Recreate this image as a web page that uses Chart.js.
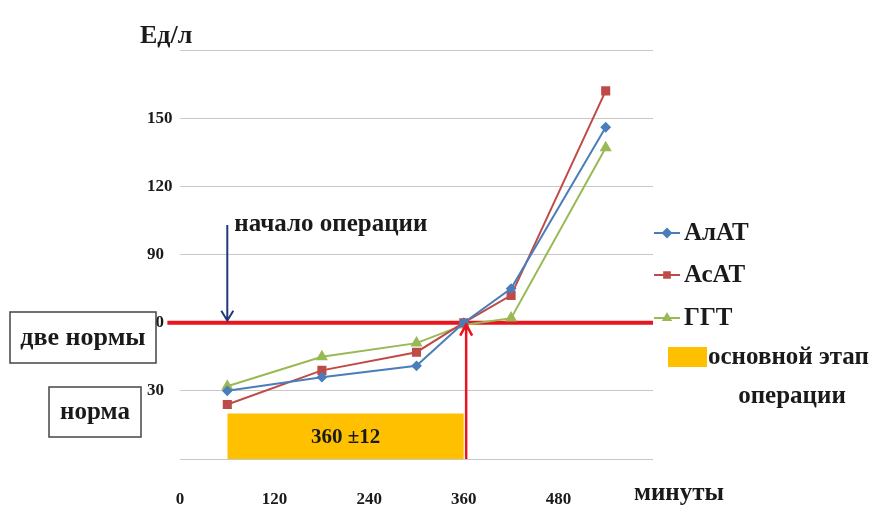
<!DOCTYPE html>
<html>
<head>
<meta charset="utf-8">
<script src="https://cdn.jsdelivr.net/npm/chart.js@4.4.1/dist/chart.umd.min.js"></script>
<style>
  body { margin: 0; background: #fff; }
</style>
</head>
<body>
<canvas id="myChart" width="874" height="523"></canvas>
<script>
// данные графика
var minutes = [60, 180, 300, 360, 420, 540];
var alat = [30, 36, 41, 60, 75, 146];
var asat = [24, 39, 47, 60, 72, 162];
var ggt = [32, 45, 51, 59, 62, 137];
var seriesNames = ['АлАТ', 'АсАТ', 'ГГТ'];
var seriesColors = ['#4a7ebb', '#be4b48', '#98b954'];
var stageMinutes = [60, 360];
var stageLevel = 20;
var twoNorms = 60;
var startMinute = 60;
var xTicks = [0, 120, 240, 360, 480];
var yTicks = [30, 60, 90, 120, 150];

var FONT = '"Liberation Serif", "Times New Roman", serif';

function pts(xs, ys) {
    return xs.map(function (x, i) { return { x: x, y: ys[i] }; });
}

var extras = {
    id: 'extras',
    afterDraw: function (chart) {
        var ctx = chart.ctx;
        var xs = chart.scales.x, ys = chart.scales.y;
        ctx.save();

        // подпись в жёлтом блоке
        ctx.fillStyle = '#1a1a1a';
        ctx.font = 'bold 21px ' + FONT;
        ctx.textAlign = 'center';
        ctx.textBaseline = 'middle';
        var bx = (xs.getPixelForValue(stageMinutes[0]) + xs.getPixelForValue(stageMinutes[1])) / 2;
        ctx.fillText('360 ±12', bx, ys.getPixelForValue(stageLevel / 2) + 1);

        // синяя стрелка "начало операции"
        var ax = xs.getPixelForValue(startMinute);
        var aTop = ys.getPixelForValue(103);
        var aBot = ys.getPixelForValue(twoNorms) - 2;
        ctx.strokeStyle = '#1f3a7a';
        ctx.lineWidth = 2;
        ctx.beginPath();
        ctx.moveTo(ax, aTop); ctx.lineTo(ax, aBot);
        ctx.moveTo(ax - 6, aBot - 10); ctx.lineTo(ax, aBot); ctx.lineTo(ax + 6, aBot - 10);
        ctx.stroke();
        ctx.fillStyle = '#1a1a1a';
        ctx.font = 'bold 25px ' + FONT;
        ctx.textAlign = 'left';
        ctx.fillText('начало операции', ax + 7, aTop);

        // красная стрелка вверх
        var rx = xs.getPixelForValue(363);
        var rTop = ys.getPixelForValue(twoNorms) + 2;
        ctx.strokeStyle = '#e8141e';
        ctx.lineWidth = 2.5;
        ctx.beginPath();
        ctx.moveTo(rx, ys.getPixelForValue(0)); ctx.lineTo(rx, rTop);
        ctx.moveTo(rx - 6, rTop + 11); ctx.lineTo(rx, rTop); ctx.lineTo(rx + 6, rTop + 11);
        ctx.stroke();

        // рамки слева
        function box(x, y, w, h, text, size) {
            ctx.fillStyle = '#fff';
            ctx.fillRect(x, y, w, h);
            ctx.strokeStyle = '#444';
            ctx.lineWidth = 1.5;
            ctx.strokeRect(x, y, w, h);
            ctx.fillStyle = '#1a1a1a';
            ctx.font = 'bold ' + size + 'px ' + FONT;
            ctx.textAlign = 'center';
            ctx.fillText(text, x + w / 2, y + h / 2 + 1);
        }
        box(10, 312, 146, 51, 'две нормы', 26);
        box(49, 387, 92, 50, 'норма', 25);

        // подписи осей
        ctx.fillStyle = '#1a1a1a';
        ctx.font = 'bold 26px ' + FONT;
        ctx.textAlign = 'left';
        ctx.fillText('Ед/л', 140, 36);
        ctx.font = 'bold 25px ' + FONT;
        ctx.textAlign = 'center';
        ctx.fillText('минуты', 679, 494);

        // легенда
        var ly = [233, 275, 318];
        ctx.font = 'bold 25px ' + FONT;
        ctx.textAlign = 'left';
        chart.data.datasets.slice(0, 3).forEach(function (ds, i) {
            ctx.strokeStyle = ds.borderColor;
            ctx.lineWidth = 2;
            ctx.beginPath();
            ctx.moveTo(654, ly[i]); ctx.lineTo(680, ly[i]);
            ctx.stroke();
            Chart.helpers.drawPoint(ctx, { pointStyle: ds.pointStyle, radius: 4, borderWidth: 1 }, 667, ly[i]);
            ctx.fillStyle = ds.borderColor;
            ctx.fill();
            ctx.fillStyle = '#1a1a1a';
            ctx.fillText(seriesNames[i], 684, ly[i] + 1);
        });
        ctx.fillStyle = '#ffc000';
        ctx.fillRect(668, 347, 39, 20);
        ctx.fillStyle = '#1a1a1a';
        ctx.font = 'bold 25px ' + FONT;
        ctx.fillText('основной этап', 708, 358);
        ctx.textAlign = 'center';
        ctx.fillText('операции', 792, 397);

        ctx.restore();
    }
};

var ctx = document.getElementById('myChart').getContext('2d');
var myChart = new Chart(ctx, {
    type: 'line',
    data: {
        datasets: [
            { label: seriesNames[0], data: pts(minutes, alat), borderColor: seriesColors[0], backgroundColor: seriesColors[0],
              pointStyle: 'rectRot', pointRadius: 4, borderWidth: 2, order: 1 },
            { label: seriesNames[1], data: pts(minutes, asat), borderColor: seriesColors[1], backgroundColor: seriesColors[1],
              pointStyle: 'rect', pointRadius: 5, borderWidth: 2, order: 2 },
            { label: seriesNames[2], data: pts(minutes, ggt), borderColor: seriesColors[2], backgroundColor: seriesColors[2],
              pointStyle: 'triangle', pointRadius: 5, borderWidth: 2, order: 3 },
            { label: 'основной этап операции', data: pts(stageMinutes, [stageLevel, stageLevel]),
              borderWidth: 0, pointRadius: 0, fill: 'origin', backgroundColor: '#ffc000', order: 5 },
            { label: 'две нормы', data: pts([-16, 600], [twoNorms, twoNorms]), borderColor: '#e8141e',
              borderWidth: 4, pointRadius: 0, clip: false, order: 4 }
        ]
    },
    options: {
        responsive: false,
        animation: false,
        layout: { padding: { left: 147, top: 50, right: 221, bottom: 14 } },
        plugins: { legend: { display: false }, tooltip: { enabled: false } },
        scales: {
            x: {
                type: 'linear', min: 0, max: 600,
                afterFit: function (s) { s.height = 50; },
                afterBuildTicks: function (s) { s.ticks = xTicks.map(function (v) { return { value: v }; }); },
                grid: { display: false },
                border: { display: false },
                ticks: { padding: 22, color: '#1a1a1a', font: { family: FONT, size: 17, weight: 'bold' } }
            },
            y: {
                min: 0, max: 180,
                afterFit: function (s) { s.width = 33; },
                afterBuildTicks: function (s) {
                    s.ticks = [0, 30, 60, 90, 120, 150, 180].map(function (v) { return { value: v }; });
                },
                grid: { color: '#c8c8c8', lineWidth: 1, drawTicks: false },
                border: { display: false },
                ticks: {
                    padding: 8, crossAlign: 'far', color: '#1a1a1a', font: { family: FONT, size: 17, weight: 'bold' },
                    callback: function (v) { return yTicks.indexOf(v) >= 0 ? String(v) : ''; }
                }
            }
        }
    },
    plugins: [extras]
});
</script>
</body>
</html>
